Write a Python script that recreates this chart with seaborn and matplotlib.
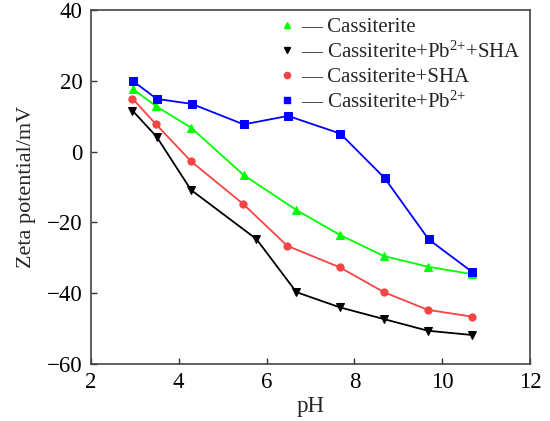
import matplotlib
matplotlib.use("Agg")
import matplotlib.pyplot as plt
import seaborn as sns
import pandas as pd
from matplotlib.lines import Line2D

sns.set_style("white")
plt.rcParams['font.family'] = ['Liberation Serif', 'DejaVu Serif']
plt.rcParams['mathtext.fontset'] = 'custom'
plt.rcParams['mathtext.rm'] = 'Liberation Serif'
plt.rcParams['mathtext.it'] = 'Liberation Serif:italic'
plt.rcParams['mathtext.default'] = 'regular'

# Data
ph_green = [2.97, 3.48, 4.28, 5.48, 6.68, 7.68, 8.67, 9.67, 10.67]
zeta_green = [17.6, 12.9, 6.8, -6.6, -16.5, -23.6, -29.5, -32.5, -34.6]

ph_black = [2.95, 3.50, 4.28, 5.77, 6.68, 7.67, 8.67, 9.67, 10.67]
zeta_black = [11.6, 4.2, -10.8, -24.7, -39.7, -44.0, -47.3, -50.6, -51.8]

ph_red = [2.95, 3.48, 4.28, 5.47, 6.47, 7.67, 8.67, 9.67, 10.67]
zeta_red = [15.0, 7.8, -2.7, -14.8, -26.6, -32.7, -39.7, -44.7, -46.6]

ph_blue = [2.97, 3.50, 4.30, 5.48, 6.49, 7.68, 8.69, 9.69, 10.67]
zeta_blue = [19.9, 14.9, 13.5, 7.7, 10.1, 5.1, -7.5, -24.8, -33.9]

labels = ["Cassiterite", "Cassiterite+Pb$^{2{+}}$+SHA", "Cassiterite+SHA", "Cassiterite+Pb$^{2{+}}$"]
colors = ["#00ff00", "#000000", "#f44444", "#0000ff"]
markers = ["^", "v", "o", "s"]
xs = [ph_green, ph_black, ph_red, ph_blue]
ys = [zeta_green, zeta_black, zeta_red, zeta_blue]

fig, ax = plt.subplots(figsize=(5.5, 4.21), dpi=100)
fig.subplots_adjust(left=0.165, right=0.964, top=0.976, bottom=0.1354)

handles = []
for x, y, lab, c, m in zip(xs, ys, labels, colors, markers):
    df = pd.DataFrame({"pH": x, "zeta": y})
    sns.lineplot(data=df, x="pH", y="zeta", ax=ax, color=c, marker=m,
                 markersize=5.2, markeredgecolor=c, linewidth=1.3, sort=False)
    handles.append(Line2D([], [], linestyle='none', marker=m, color=c,
                          markeredgecolor=c, markersize=4.5))

ax.set_xlim(2, 12)
ax.set_ylim(-60, 40)
ax.set_xticks([2, 4, 6, 8, 10, 12])
ax.set_yticks([-60, -40, -20, 0, 20, 40])
ax.set_yticklabels(["\u221260", "\u221240", "\u221220", "0", "20", "40"])
ax.set_xlabel("pH", fontsize=16.5, labelpad=2)
ax.set_ylabel("Zeta potential/mV", fontsize=16, labelpad=8)
ax.tick_params(axis='both', which='both', direction='in', length=4, width=1,
               labelsize=16.5, bottom=True, left=True, top=False, right=False,
               colors='#333333', labelcolor='black', pad=6)
for s in ax.spines.values():
    s.set_color('#444444')
    s.set_linewidth(1.2)

leg = ax.legend(handles, ["\u2014 " + l for l in labels], loc='upper left',
                bbox_to_anchor=(0.405, 1.015), frameon=False, fontsize=15,
                handlelength=0.6, handletextpad=0.35, labelspacing=0.22,
                borderaxespad=0.2)

fig.savefig("out.png", dpi=100)
